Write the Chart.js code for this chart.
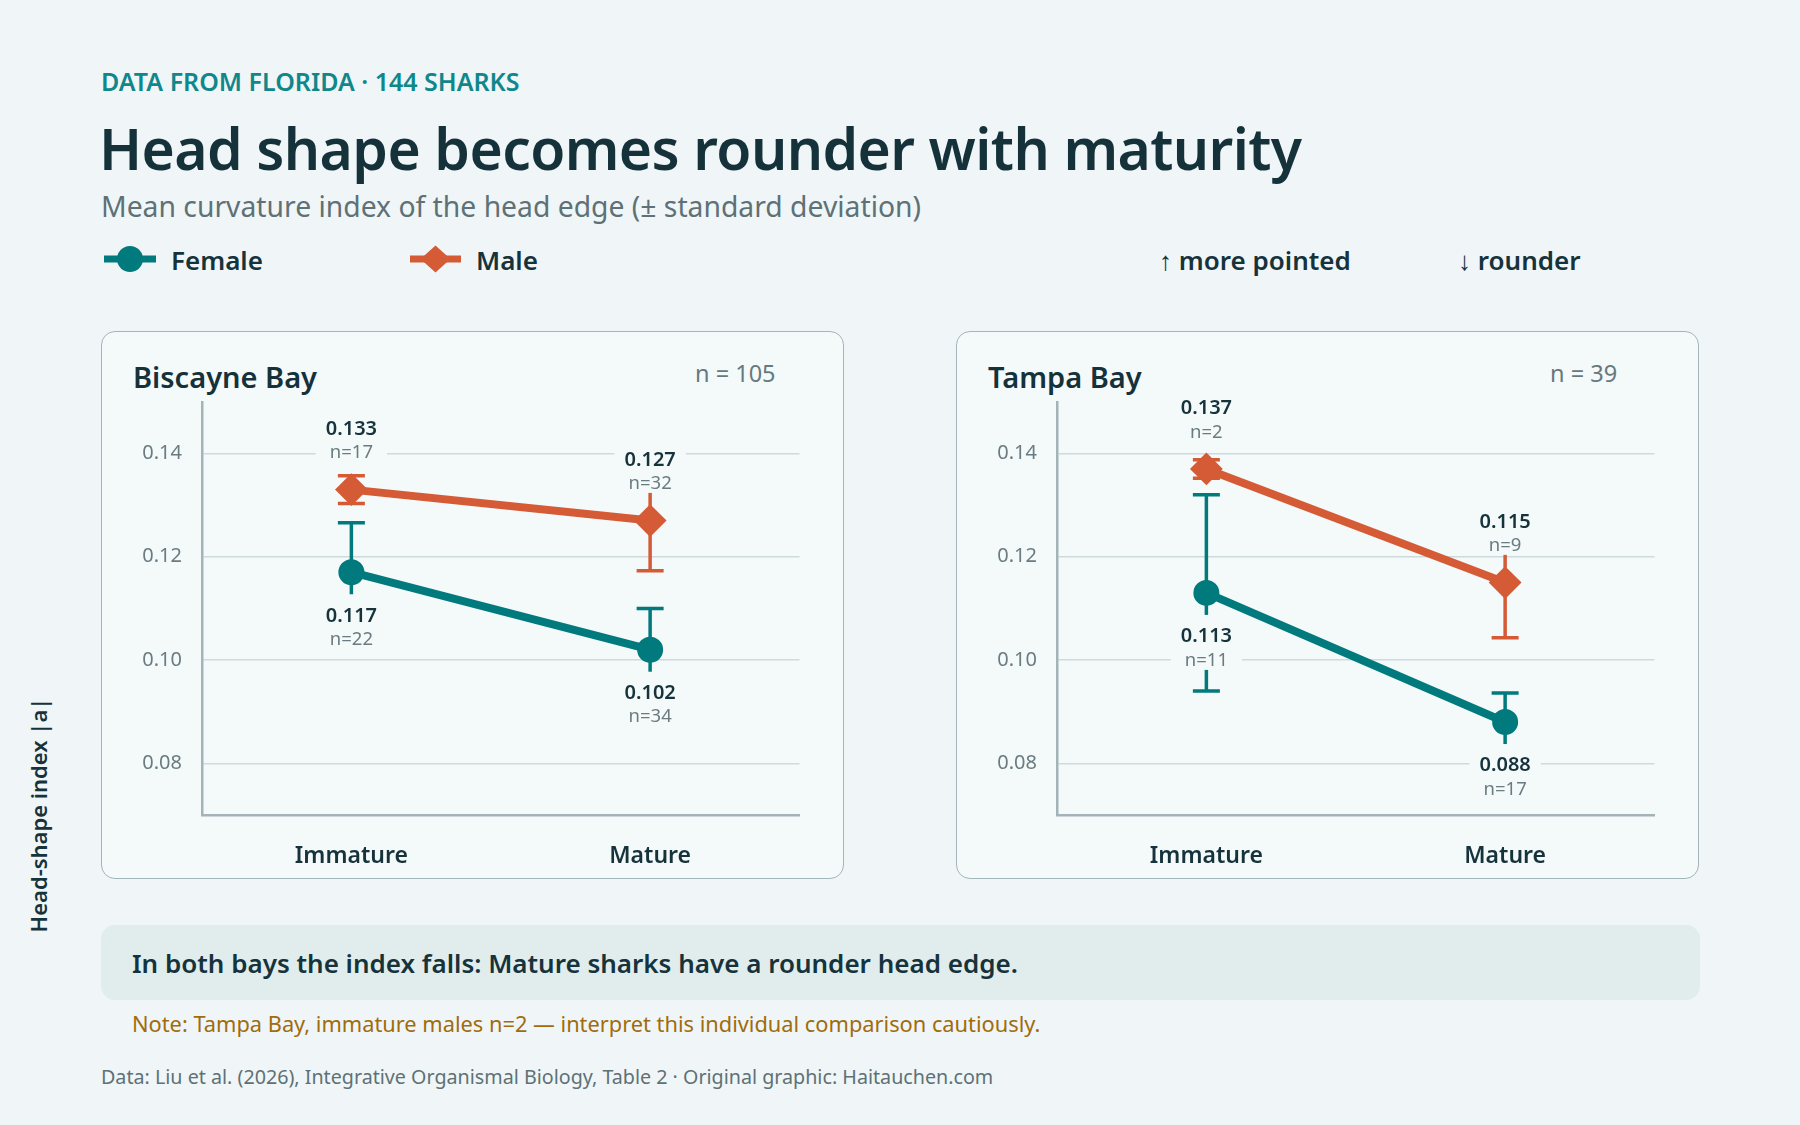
<!DOCTYPE html>
<html>
<head>
<meta charset="utf-8">
<title>Head shape becomes rounder with maturity</title>
<script src="https://cdn.jsdelivr.net/npm/chart.js@4.4.1/dist/chart.umd.min.js"></script>
<style>
  html, body { margin: 0; padding: 0; }
  body { width: 1800px; height: 1125px; background: #f0f6f7; font-family: "Noto Sans", sans-serif; color: #16333c; position: relative; overflow: hidden; }
  .abs { position: absolute; white-space: nowrap; line-height: 1; }
  #eyebrow { left: 101px; top: 68.5px; font-size: 25px; font-weight: 600; color: #10878a; }
  #title { left: 99px; top: 120px; font-size: 57px; font-weight: 600; color: #15323b; letter-spacing: -0.6px; }
  #subtitle { left: 101px; top: 191.5px; font-size: 28.3px; color: #5e7176; }
  .legtxt { top: 247px; font-size: 26px; font-weight: 600; color: #16333c; }
  .panel { position: absolute; top: 331px; width: 741px; height: 546px; border: 1.5px solid #a2b5ba; border-radius: 14px; background: #f4f9fa; }
  .panel .ptitle { position: absolute; left: 31px; top: 30px; font-size: 29px; font-weight: 600; color: #15323b; line-height: 1; white-space: nowrap; }
  .panel .pn { position: absolute; left: 593px; top: 29.7px; font-size: 23.5px; color: #66797e; line-height: 1; white-space: nowrap; }
  .panel .cwrap { position: absolute; left: 0; top: 0; width: 741px; height: 546px; }
  #ytitle { left: 38px; top: 815px; font-size: 22px; font-weight: 600; color: #16333c; transform: translate(-50%, -50%) rotate(-90deg); }
  #summary { position: absolute; left: 101px; top: 925px; width: 1599px; height: 75px; border-radius: 14px; background: #e1eded; }
  #summary span { position: absolute; left: 31px; top: 24.6px; font-size: 26px; font-weight: 600; color: #16333c; line-height: 1; white-space: nowrap; }
  #note { left: 132px; top: 1013.3px; font-size: 21.8px; color: #a06c0c; }
  #footer { left: 101px; top: 1067px; font-size: 19.7px; color: #5e7176; }
</style>
</head>
<body>

<div id="eyebrow" class="abs">DATA FROM FLORIDA · 144 SHARKS</div>
<div id="title" class="abs">Head shape becomes rounder with maturity</div>
<div id="subtitle" class="abs">Mean curvature index of the head edge (± standard deviation)</div>

<svg class="abs" style="left:100px; top:240px;" width="400" height="40">
  <line x1="4" y1="19" x2="56" y2="19" stroke="#007a7c" stroke-width="7"></line>
  <circle cx="30" cy="19" r="13" fill="#007a7c"></circle>
  <line x1="310" y1="19" x2="361" y2="19" stroke="#d45b35" stroke-width="7"></line>
  <polygon points="320.5,19 335.5,5.5 350.5,19 335.5,32.5" fill="#d45b35"></polygon>
</svg>
<div class="abs legtxt" style="left:171px;">Female</div>
<div class="abs legtxt" style="left:476px;">Male</div>
<div class="abs legtxt" style="left:1159px;">↑ more pointed</div>
<div class="abs legtxt" style="left:1458px;">↓ rounder</div>

<div class="panel" style="left:101px;">
  <div class="ptitle">Biscayne Bay</div>
  <div class="pn">n = 105</div>
  <div class="cwrap"><canvas id="biscayneChart"></canvas></div>
</div>
<div class="panel" style="left:956px;">
  <div class="ptitle">Tampa Bay</div>
  <div class="pn">n = 39</div>
  <div class="cwrap"><canvas id="tampaChart"></canvas></div>
</div>

<div id="ytitle" class="abs">Head-shape index |a|</div>

<div id="summary"><span>In both bays the index falls: Mature sharks have a rounder head edge.</span></div>
<div id="note" class="abs">Note: Tampa Bay, immature males n=2 — interpret this individual comparison cautiously.</div>
<div id="footer" class="abs">Data: Liu et al. (2026), Integrative Organismal Biology, Table 2 · Original graphic: Haitauchen.com</div>

<script>
// data
var stages = ['Immature', 'Mature'];
var yTicks = [0.08, 0.10, 0.12, 0.14];

var biscayneFemaleMean = [0.117, 0.102];
var biscayneFemaleSd = [0.0096, 0.008];
var biscayneFemaleN = [22, 34];
var biscayneMaleMean = [0.133, 0.127];
var biscayneMaleSd = [0.0027, 0.0097];
var biscayneMaleN = [17, 32];

var tampaFemaleMean = [0.113, 0.088];
var tampaFemaleSd = [0.019, 0.0056];
var tampaFemaleN = [11, 17];
var tampaMaleMean = [0.137, 0.115];
var tampaMaleSd = [0.0018, 0.0107];
var tampaMaleN = [2, 9];

var FONT = '"Noto Sans", sans-serif';
var TEAL = '#007a7c';
var ORANGE = '#d45b35';
var DARK = '#16333c';
var GRAY = '#6a7c81';
var PANEL_BG = '#f4f9fa';

// vertical SD whiskers with caps, under the lines
var errorBars = {
  id: 'errorBars',
  beforeDatasetsDraw: function(chart) {
    var c = chart.ctx, xs = chart.scales.x, ys = chart.scales.y;
    chart.data.datasets.forEach(function(ds) {
      c.save();
      c.strokeStyle = ds.borderColor;
      c.lineWidth = 3.5;
      ds.data.forEach(function(v, i) {
        var px = xs.getPixelForValue(i);
        var top = ys.getPixelForValue(v + ds.sd[i]);
        var bot = ys.getPixelForValue(v - ds.sd[i]);
        c.beginPath();
        c.moveTo(px, top); c.lineTo(px, bot);
        c.moveTo(px - 13.5, top); c.lineTo(px + 13.5, top);
        c.moveTo(px - 13.5, bot); c.lineTo(px + 13.5, bot);
        c.stroke();
      });
      c.restore();
    });
  }
};

// mean + n labels; male above the point, female below
var valueLabels = {
  id: 'valueLabels',
  afterDatasetsDraw: function(chart) {
    var c = chart.ctx, xs = chart.scales.x, ys = chart.scales.y;
    chart.data.datasets.forEach(function(ds) {
      ds.data.forEach(function(v, i) {
        var px = xs.getPixelForValue(i);
        var py = ys.getPixelForValue(v);
        var valTxt = v.toFixed(3);
        var nTxt = 'n=' + ds.n[i];
        var vBase, nBase, boxTop, boxBot;
        if (ds.above) {
          vBase = py - 54.6; nBase = py - 31.3; boxTop = py - 82; boxBot = py - 27.7;
        } else {
          vBase = py + 49.3; nBase = py + 72.7; boxTop = py + 22; boxBot = py + 77;
        }
        c.save();
        c.font = '600 20px ' + FONT;
        var w1 = c.measureText(valTxt).width;
        c.font = '18.5px ' + FONT;
        var w2 = c.measureText(nTxt).width;
        var w = Math.max(w1, w2) + 20;
        c.fillStyle = PANEL_BG;
        c.fillRect(px - w / 2, boxTop, w, boxBot - boxTop);
        c.textAlign = 'center';
        c.textBaseline = 'alphabetic';
        c.fillStyle = DARK;
        c.font = '600 20px ' + FONT;
        c.fillText(valTxt, px, vBase);
        c.fillStyle = GRAY;
        c.font = '18.5px ' + FONT;
        c.fillText(nTxt, px, nBase);
        c.restore();
      });
    });
  }
};

function makePanel(canvasId, fMean, fSd, fN, mMean, mSd, mN) {
  var ctx = document.getElementById(canvasId).getContext('2d');
  return new Chart(ctx, {
    type: 'line',
    data: {
      labels: stages,
      datasets: [
        {
          label: 'Female', data: fMean, sd: fSd, n: fN, above: false,
          borderColor: TEAL, backgroundColor: TEAL, borderWidth: 8,
          pointStyle: 'circle', pointRadius: 12, pointBorderWidth: 2,
          pointBackgroundColor: TEAL, pointBorderColor: TEAL
        },
        {
          label: 'Male', data: mMean, sd: mSd, n: mN, above: true,
          borderColor: ORANGE, backgroundColor: ORANGE, borderWidth: 8,
          pointStyle: 'rectRot', pointRadius: 15, pointBorderWidth: 2,
          pointBackgroundColor: ORANGE, pointBorderColor: ORANGE
        }
      ]
    },
    options: {
      responsive: true,
      maintainAspectRatio: false,
      animation: false,
      events: [],
      layout: { padding: { top: 69.8, right: 43.5, bottom: 0, left: 0 } },
      plugins: { legend: { display: false }, tooltip: { enabled: false } },
      scales: {
        x: {
          type: 'category',
          offset: true,
          grid: { display: false, drawTicks: false },
          border: { display: true, color: '#a3b4b9', width: 2.5 },
          ticks: { color: DARK, font: { family: FONT, size: 23, weight: '600' }, padding: 28 },
          afterFit: function(s) { s.height = 63; }
        },
        y: {
          min: 0.07,
          max: 0.15,
          afterBuildTicks: function(s) { s.ticks = yTicks.map(function(v) { return { value: v }; }); },
          grid: { color: '#cfdadd', lineWidth: 1.5, drawTicks: false },
          border: { display: true, color: '#a3b4b9', width: 2.5 },
          ticks: {
            color: GRAY, font: { family: FONT, size: 20 }, padding: 20,
            callback: function(v) { return Number(v).toFixed(2); }
          },
          afterFit: function(s) { s.width = 100; }
        }
      }
    },
    plugins: [errorBars, valueLabels]
  });
}

makePanel('biscayneChart', biscayneFemaleMean, biscayneFemaleSd, biscayneFemaleN,
          biscayneMaleMean, biscayneMaleSd, biscayneMaleN);
makePanel('tampaChart', tampaFemaleMean, tampaFemaleSd, tampaFemaleN,
          tampaMaleMean, tampaMaleSd, tampaMaleN);
</script>
</body>
</html>
